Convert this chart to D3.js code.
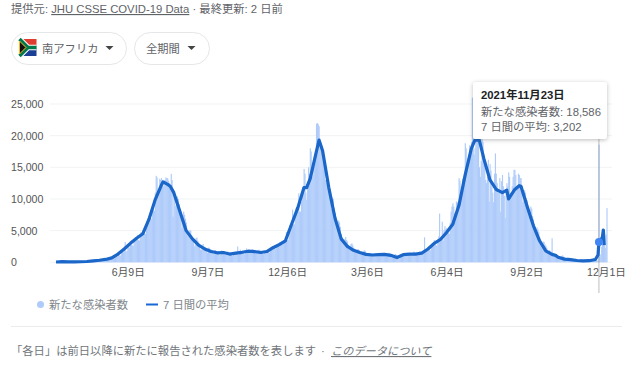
<!DOCTYPE html>
<html>
<head>
<meta charset="utf-8">
<style>
  html, body { margin: 0; padding: 0; background: #fff; overflow: hidden; }
  svg { display: block; }
  text { font-family: "Liberation Sans", "Noto Sans CJK JP", sans-serif; }
</style>
</head>
<body>
<div id="chart"></div>
<script src="https://cdn.jsdelivr.net/npm/d3@7"></script>
<script>
// first day of the series, 2020-03-20
const startDate = Date.UTC(2020, 2, 20);

// new cases per day, one row per week
const dailyCases = [
  50,38,28,48,93,52,87,
  75,120,60,90,70,80,60,
  67,52,35,53,90,60,65,
  65,50,40,30,55,70,65,
  110,85,60,75,100,130,120,
  140,120,90,110,150,170,190,
  220,190,170,160,230,300,250,
  330,300,260,280,350,380,360,
  450,420,390,400,470,600,560,
  700,680,600,640,780,900,850,
  1300,1200,1000,1100,1450,1650,1550,
  2100,3200,1700,1800,2400,2700,2300,
  2900,2800,2700,2600,3300,3800,3600,
  4000,4300,3500,3400,4400,4800,4500,
  5100,4800,4500,4500,5900,6500,6300,
  7200,7500,7000,6800,8000,8400,8100,
  11000,13650,13400,10800,11500,13200,13000,
  13300,13000,12000,12300,13000,13400,13300,
  13300,12900,12500,12000,13960,13000,7200,
  11200,10800,8900,10000,10400,10000,9200,
  8300,8000,5400,7000,8000,7500,6900,
  6300,5000,4200,4000,5100,5000,4300,
  3900,3700,2500,2800,3800,3900,3400,
  3100,2700,2000,2000,2700,2900,2500,
  2400,2100,1800,1500,2300,2300,2000,
  2000,1900,1400,1300,1900,1900,1700,
  1600,1700,1300,1200,1800,1900,1700,
  1700,1500,1200,1200,1500,1700,1600,
  1500,1300,1100,1000,1400,1600,1500,
  1500,1600,2500,1200,1600,2000,1600,
  1700,1600,1400,1300,1900,2200,2000,
  1900,1800,1600,1500,2000,2100,1900,
  1800,1700,1500,1500,1900,2000,1900,
  1700,1600,1400,1300,1700,1800,1800,
  1900,1800,1600,1500,2100,2300,2200,
  2400,2500,2200,2100,2800,2900,2700,
  3000,3200,2800,2700,3300,3400,3300,
  3600,4800,3500,3500,5000,5900,5600,
  6100,8300,6000,6000,7400,8600,8300,
  8700,10900,8000,8000,9500,10600,11300,
  14750,14000,11000,9850,12500,15000,14000,
  18000,17500,13500,13800,15000,17000,16800,
  21900,21980,21800,21500,18000,18500,18000,
  17500,16500,15000,13000,12500,13500,13000,
  12000,11500,10000,8400,10200,10000,8500,
  7800,6900,5500,5500,6600,6300,5600,
  4500,3900,3200,3000,3700,4000,3500,
  3300,2800,2200,2100,2900,3000,2700,
  2300,2100,1700,1600,2000,2100,1900,
  1700,1500,1200,1200,1700,1900,1800,
  1500,1300,1000,1000,1500,1400,1300,
  1400,1200,1000,1000,1400,1300,1200,
  1300,1300,1000,1000,1500,1400,1400,
  1300,1400,1100,1000,1500,1500,1400,
  1300,1100,800,800,1200,1300,1200,
  900,800,600,600,800,1100,1000,
  1300,1300,1000,1000,1400,1500,1400,
  1400,1400,1100,1100,1500,1700,1600,
  1500,1300,1100,1100,1600,1800,1600,
  1700,1500,1300,3950,1800,2100,1900,
  2300,2200,1900,1900,2800,3000,2800,
  3500,3400,2700,2600,3700,4100,7700,
  3800,3500,6400,3400,5100,5700,5200,
  5400,5100,4600,4500,6200,8000,8800,
  9300,8800,7800,7500,9600,9500,9000,
  13300,12900,10500,10300,13200,13300,13800,
  18800,18000,15000,14500,17000,18500,18000,
  19000,26000,21000,17000,18000,21000,22000,
  22000,20000,15000,13500,16000,20000,19000,
  17000,16000,13000,12500,13500,16200,9600,
  15500,14500,12000,11000,9500,14000,17200,
  14000,12500,11000,11000,13300,8000,12800,
  13800,12000,10500,7000,11500,12500,12000,
  14200,13500,11000,10800,12000,13500,14600,
  14600,13800,12000,11800,14000,13800,13300,
  13300,12000,9500,9800,11400,11000,10200,
  9800,8800,7200,7000,8800,8500,7300,
  6800,6000,4600,4500,5500,5200,4800,
  4000,3600,2800,2700,3300,3200,2800,
  2600,2300,1700,1600,1900,1800,1500,
  3800,1300,1000,900,1200,1300,1000,
  1000,900,700,700,1000,1100,900,
  800,700,500,450,600,700,600,
  600,500,400,350,500,550,500,
  450,400,300,300,450,500,400,
  350,300,220,200,300,350,300,
  300,250,200,180,280,300,280,
  320,310,250,300,18586,868,1275,
  2465,2828,3220,2858,2273,4373,8561
];

// 7 day average: day number since startDate, and its value
const avgDays = [0,7,14,21,28,35,42,49,56,63,70,77,84,91,98,105,112,119,121,126,129,133,140,147,154,161,168,175,182,
  189,196,203,210,217,224,231,238,245,252,259,266,273,280,283,287,294,297,301,308,315,322,329,336,
  343,350,357,364,371,378,385,392,399,406,413,420,427,434,441,448,455,462,469,473,478,483,490,497,504,
  509,511,518,523,525,532,539,546,553,560,564,567,574,581,588,595,602,609,612,613,615,617,618,619];
const avgValues = [50,100,60,60,90,130,220,320,450,700,1300,2100,3000,3800,4500,6800,9900,12200,12700,12300,12000,11000,8000,5000,3700,2700,2100,1700,1500,
  1550,1300,1450,1580,1750,1700,1550,1700,2300,2800,3400,6000,8600,11800,11800,13200,17500,19300,17600,11800,7000,3700,2500,1900,
  1550,1250,1150,1200,1250,1100,750,1200,1300,1300,1450,2100,3000,3600,4700,6000,9000,13800,18000,19300,19300,16400,13000,11500,11000,
  11400,10000,11500,12100,12000,8800,5800,3400,1800,1250,1100,800,500,420,280,220,250,450,1150,3202,3500,4000,5100,2700];

const yTicks = [0, 5000, 10000, 15000, 20000, 25000];
const xTicks = [Date.UTC(2020,5,9), Date.UTC(2020,8,7), Date.UTC(2020,11,6), Date.UTC(2021,2,6),
  Date.UTC(2021,5,4), Date.UTC(2021,8,2), Date.UTC(2021,11,1)];

const tooltipDay = 613;
const tooltipTitle = "2021年11月23日";
const tooltipLines = ["新たな感染者数: 18,586", "7 日間の平均: 3,202"];

const dayToDate = d => d3.utcDay.offset(new Date(startDate), d);

const width = 640, height = 374;

const svg = d3.select("#chart")
  .append("svg")
  .attr("width", width)
  .attr("height", height);

const x = d3.scaleUtc()
  .domain([new Date(startDate), new Date(Date.UTC(2021, 11, 1))])
  .range([56, 606]);

const y = d3.scaleLinear()
  .domain([0, 25000])
  .range([262.3, 104]);

// header
const grey = "#5f6368";
const header = svg.append("text")
  .attr("x", 11).attr("y", 13)
  .attr("font-size", 11.3)
  .attr("fill", grey);
header.append("tspan").text("提供元: ");
header.append("tspan").attr("text-decoration", "underline").text("JHU CSSE COVID-19 Data");
header.append("tspan").text(" · 最終更新: 2 日前");

// dropdown pills
const pills = [
  { x: 11, w: 115, label: "南アフリカ", tx: 42, cx: 109 },
  { x: 134, w: 75, label: "全期間", tx: 146, cx: 191 }
];
const pill = svg.append("g").selectAll("g").data(pills).join("g");
pill.append("rect")
  .attr("x", d => d.x + 0.5).attr("y", 32.5)
  .attr("width", d => d.w).attr("height", 32)
  .attr("rx", 16)
  .attr("fill", "#fff")
  .attr("stroke", "#e4e6e8");
pill.append("text")
  .attr("x", d => d.tx).attr("y", 53)
  .attr("font-size", 11.3)
  .attr("fill", grey)
  .text(d => d.label);
pill.append("path")
  .attr("d", d => `M${d.cx - 3.5},46 h8 l-4,4 z`)
  .attr("fill", "#444");

// flag
const flag = svg.append("g").attr("transform", "translate(19.5,39)");
flag.append("rect").attr("width", 17).attr("height", 8.5).attr("fill", "#e03c31");
flag.append("rect").attr("y", 8.5).attr("width", 17).attr("height", 8.5).attr("fill", "#1b3f94");
flag.append("path").attr("d", "M0,0 L8.5,8.5 L17,8.5 M0,17 L8.5,8.5")
  .attr("fill", "none").attr("stroke", "#fff").attr("stroke-width", 5.4);
flag.append("path").attr("d", "M0,0 L8.5,8.5 L17,8.5 M0,17 L8.5,8.5")
  .attr("fill", "none").attr("stroke", "#007a4d").attr("stroke-width", 3.4);
flag.append("path").attr("d", "M0,2 L6.5,8.5 L0,15 z").attr("fill", "#111")
  .attr("stroke", "#ffb81c").attr("stroke-width", 1);

// grid
svg.append("g")
  .selectAll("line")
  .data(yTicks)
  .join("line")
  .attr("x1", 50).attr("x2", 612)
  .attr("y1", d => y(d)).attr("y2", d => y(d))
  .attr("stroke", "#f1f3f4");

// y axis, labels are left aligned
const yAxis = svg.append("g")
  .attr("transform", "translate(11,0)")
  .call(d3.axisRight(y).tickValues(yTicks).tickSize(0).tickPadding(0).tickFormat(d3.format(",")));
yAxis.select(".domain").remove();
yAxis.selectAll("text").attr("font-size", 10.6).attr("fill", "#555").attr("font-family", null);

// x axis
const xAxis = svg.append("g")
  .attr("transform", "translate(0,262.3)")
  .call(d3.axisBottom(x).tickValues(xTicks.map(d => new Date(d))).tickSize(0).tickPadding(6)
    .tickFormat(d => `${d.getUTCMonth() + 1}月${d.getUTCDate()}日`));
xAxis.select(".domain").remove();
xAxis.selectAll("text").attr("font-size", 10.6).attr("fill", "#555").attr("font-family", null);

// daily bars, a bit wider than a day so they read as a solid area
const barW = x(dayToDate(1)) - x(dayToDate(0));
svg.append("g")
  .attr("fill", "#aecbfa")
  .selectAll("rect")
  .data(dailyCases)
  .join("rect")
  .attr("x", (d, i) => x(dayToDate(i)) - barW / 2)
  .attr("y", d => y(d))
  .attr("width", barW + 0.25)
  .attr("height", d => y(0) - y(d));

// hover line
const hoverX = x(dayToDate(tooltipDay));
svg.append("line")
  .attr("x1", hoverX).attr("x2", hoverX)
  .attr("y1", 139).attr("y2", 293)
  .attr("stroke", "#70757a")
  .attr("stroke-opacity", 0.4)
  .attr("stroke-width", 1.2);

// average line
const avgLine = d3.line()
  .x((d, i) => x(dayToDate(avgDays[i])))
  .y(d => y(d));
svg.append("path")
  .datum(avgValues)
  .attr("fill", "none")
  .attr("stroke", "#1a66c9")
  .attr("stroke-width", 3.2)
  .attr("stroke-linejoin", "round")
  .attr("d", avgLine);

// hover point
svg.append("circle")
  .attr("cx", hoverX)
  .attr("cy", y(avgValues[avgDays.indexOf(tooltipDay)]))
  .attr("r", 4)
  .attr("fill", "#4285f4");

// tooltip
svg.append("rect")
  .attr("x", 473).attr("y", 82)
  .attr("width", 134).attr("height", 57)
  .attr("rx", 2)
  .attr("fill", "#fff")
  .style("filter", "drop-shadow(0 1px 2px rgba(60,64,67,.35))");
svg.append("text")
  .attr("x", 481).attr("y", 99)
  .attr("font-size", 11.3)
  .attr("font-weight", "bold")
  .attr("fill", "#202124")
  .text(tooltipTitle);
svg.append("g")
  .selectAll("text")
  .data(tooltipLines)
  .join("text")
  .attr("x", 481)
  .attr("y", (d, i) => 116 + i * 15)
  .attr("font-size", 11.3)
  .attr("fill", grey)
  .text(d => d);

// legend
svg.append("circle").attr("cx", 40.5).attr("cy", 304.5).attr("r", 3.5).attr("fill", "#aecbfa");
svg.append("text").attr("x", 49).attr("y", 309).attr("font-size", 11.3).attr("fill", "#80868b").text("新たな感染者数");
svg.append("line").attr("x1", 146).attr("x2", 158).attr("y1", 304.5).attr("y2", 304.5)
  .attr("stroke", "#1967d2").attr("stroke-width", 2);
svg.append("text").attr("x", 163).attr("y", 309).attr("font-size", 11.3).attr("fill", "#80868b").text("7 日間の平均");

// footer
svg.append("line").attr("x1", 11).attr("x2", 622).attr("y1", 326.5).attr("y2", 326.5).attr("stroke", "#ebebeb");
svg.append("text").attr("x", 11).attr("y", 355).attr("font-size", 11.3).attr("fill", "#70757a")
  .text("「各日」は前日以降に新たに報告された感染者数を表します");
svg.append("text").attr("x", 321).attr("y", 355).attr("font-size", 11.3).attr("fill", "#70757a").text("·");
svg.append("text").attr("x", 331).attr("y", 355).attr("font-size", 11.2).attr("fill", "#70757a")
  .attr("text-decoration", "underline").attr("font-style", "italic").text("このデータについて");
</script>
</body>
</html>
